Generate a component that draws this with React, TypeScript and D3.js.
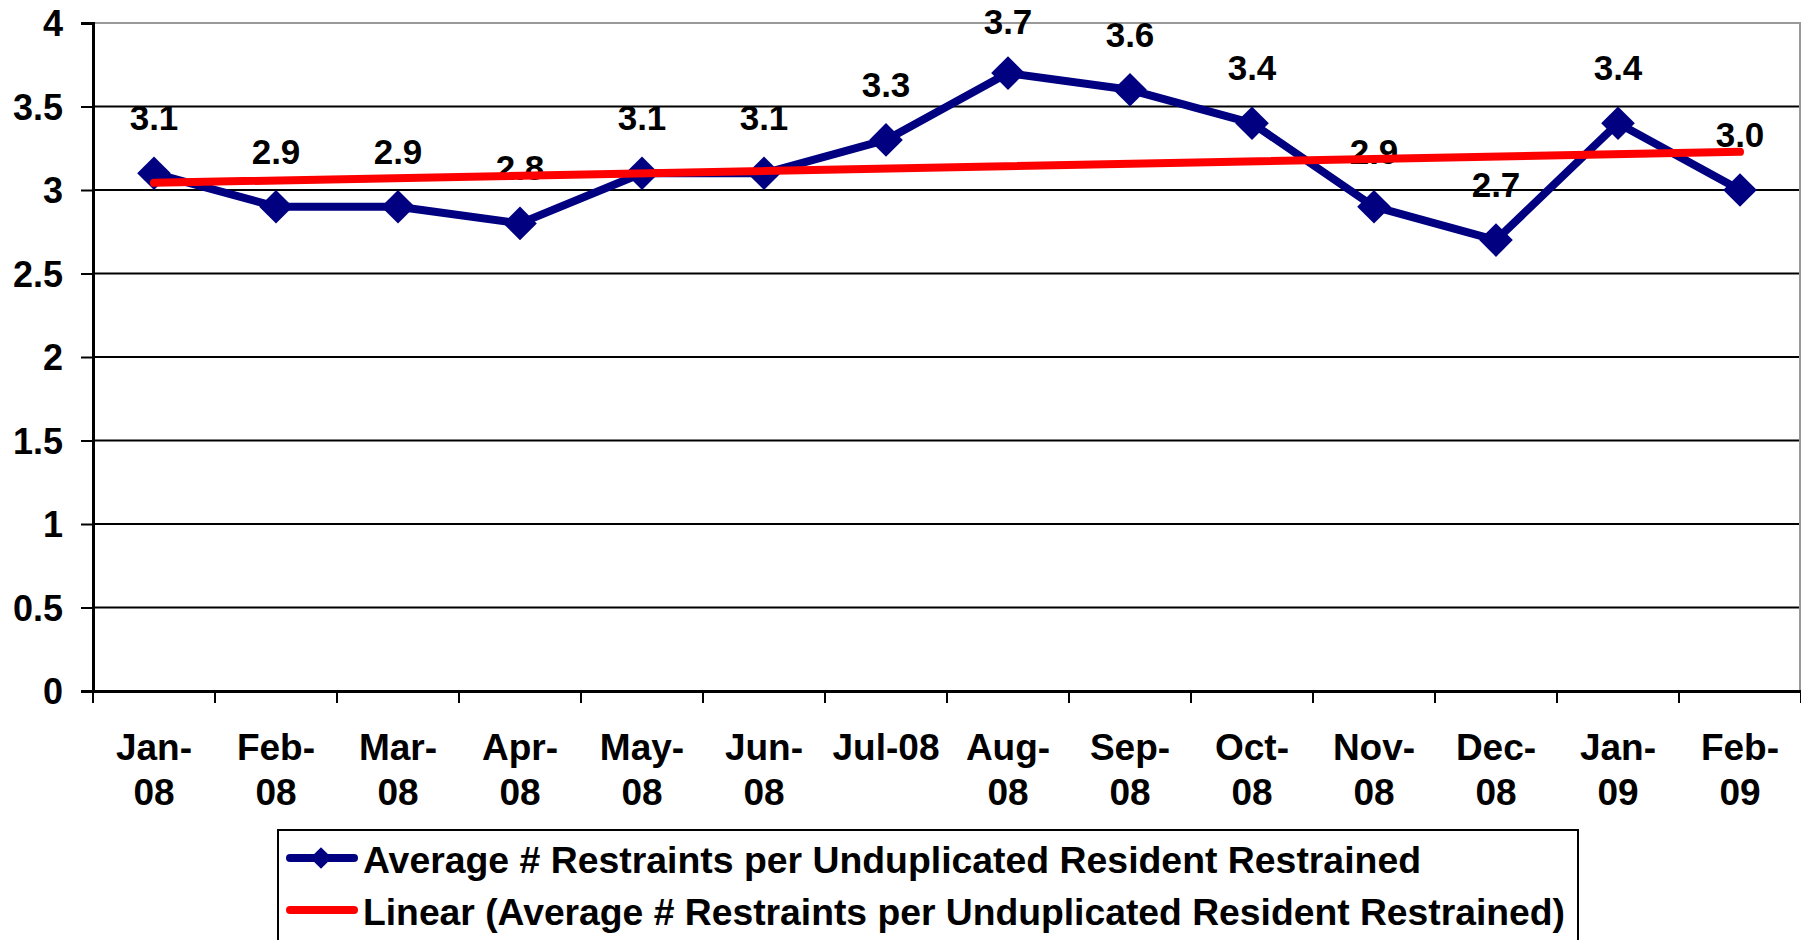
import { useEffect, useRef } from 'react';
import * as d3 from 'd3';

const months = ['Jan-08', 'Feb-08', 'Mar-08', 'Apr-08', 'May-08', 'Jun-08', 'Jul-08', 'Aug-08', 'Sep-08', 'Oct-08', 'Nov-08', 'Dec-08', 'Jan-09', 'Feb-09'];
const avgRestraints = [3.1, 2.9, 2.9, 2.8, 3.1, 3.1, 3.3, 3.7, 3.6, 3.4, 2.9, 2.7, 3.4, 3.0];
const yTicks = [0, 0.5, 1, 1.5, 2, 2.5, 3, 3.5, 4];
const seriesName = 'Average # Restraints per Unduplicated Resident Restrained';
const trendName = 'Linear (Average # Restraints per Unduplicated Resident Restrained)';

const W = 1801;
const H = 940;
const FONT = "Arial, 'Liberation Sans', sans-serif";

// split "Jan-08" -> ["Jan-", "08"], but Jul-08 stays on one line like the original
const splitLabel = (m: string) => (m === 'Jul-08' ? [m] : [m.slice(0, 4), m.slice(4)]);

const App = () => {
  const svgRef = useRef<SVGSVGElement | null>(null);

  useEffect(() => {
    if (!svgRef.current) return;
    const svg = d3.select(svgRef.current);
    svg.selectAll('*').remove();

    const left = 93;
    const right = 1801;
    const top = 23;
    const bottom = 691;

    const x = d3.scaleBand().domain(months).range([left, right]);
    const y = d3.scaleLinear().domain([0, 4]).range([bottom, top]);
    const cx = (m: string) => (x(m) as number) + x.bandwidth() / 2;

    // gridlines
    svg.append('g')
      .selectAll('line')
      .data(yTicks.filter(t => t > 0))
      .enter()
      .append('line')
      .attr('x1', left)
      .attr('x2', right)
      .attr('y1', d => y(d))
      .attr('y2', d => y(d))
      .attr('stroke', d => (d === 4 ? '#999' : '#000'))
      .attr('stroke-width', 2);

    // right border
    svg.append('line')
      .attr('x1', right - 1).attr('x2', right - 1)
      .attr('y1', top).attr('y2', bottom)
      .attr('stroke', '#999').attr('stroke-width', 2);

    // y axis
    const yAxis = svg.append('g').attr('transform', `translate(${left},0)`)
      .call(d3.axisLeft(y).tickValues(yTicks).tickSize(12).tickFormat(d => String(d)));
    yAxis.select('.domain').attr('stroke', '#000').attr('stroke-width', 3);
    yAxis.selectAll('.tick line').attr('stroke', '#000').attr('stroke-width', 2);
    yAxis.selectAll('.tick text')
      .attr('x', -30)
      .attr('dy', '0.36em')
      .attr('fill', '#000')
      .style('font-family', FONT)
      .style('font-weight', 'bold')
      .style('font-size', '36px');

    // x axis
    const xAxis = svg.append('g').attr('transform', `translate(0,${bottom})`)
      .call(d3.axisBottom(x).tickSize(0).tickFormat(() => ''));
    xAxis.select('.domain').attr('stroke', '#000').attr('stroke-width', 3);
    xAxis.selectAll('.tick').remove();

    svg.append('g')
      .selectAll('line')
      .data(d3.range(months.length + 1))
      .enter()
      .append('line')
      .attr('x1', i => left + i * x.step())
      .attr('x2', i => left + i * x.step())
      .attr('y1', bottom)
      .attr('y2', bottom + 12)
      .attr('stroke', '#000')
      .attr('stroke-width', 2);

    const xl = svg.append('g')
      .style('font-family', FONT)
      .style('font-weight', 'bold')
      .style('font-size', '37px')
      .attr('text-anchor', 'middle');
    months.forEach(m => {
      const t = xl.append('text').attr('x', cx(m)).attr('y', 760);
      splitLabel(m).forEach((part, i) => {
        t.append('tspan').attr('x', cx(m)).attr('dy', i === 0 ? 0 : 45).text(part);
      });
    });

    // data labels (kept inside the top of the chart, like Excel does)
    svg.append('g')
      .selectAll('text')
      .data(avgRestraints)
      .enter()
      .append('text')
      .attr('x', (d, i) => cx(months[i]))
      .attr('y', d => Math.max(y(d) - 43, 34))
      .attr('text-anchor', 'middle')
      .style('font-family', FONT)
      .style('font-weight', 'bold')
      .style('font-size', '35px')
      .text(d => d3.format('.1f')(d));

    // series line
    const line = d3.line<number>()
      .x((d, i) => cx(months[i]))
      .y(d => y(d));

    svg.append('path')
      .datum(avgRestraints)
      .attr('d', line)
      .attr('fill', 'none')
      .attr('stroke', '#000080')
      .attr('stroke-width', 8)
      .attr('stroke-linejoin', 'round');

    const diamond = d3.symbol().type(d3.symbolDiamond2).size(720);
    svg.append('g')
      .selectAll('path')
      .data(avgRestraints)
      .enter()
      .append('path')
      .attr('transform', (d, i) => `translate(${cx(months[i])},${y(d)})`)
      .attr('d', diamond)
      .attr('fill', '#000080');

    // linear trendline (least squares on the series)
    const n = avgRestraints.length;
    const xs = d3.range(n);
    const mx = d3.mean(xs) as number;
    const my = d3.mean(avgRestraints) as number;
    const slope = d3.sum(xs, i => (i - mx) * (avgRestraints[i] - my)) / d3.sum(xs, i => (i - mx) ** 2);
    const icpt = my - slope * mx;

    svg.append('line')
      .attr('x1', cx(months[0]))
      .attr('x2', cx(months[n - 1]))
      .attr('y1', y(icpt))
      .attr('y2', y(icpt + slope * (n - 1)))
      .attr('stroke', '#ff0000')
      .attr('stroke-width', 8)
      .attr('stroke-linecap', 'round');

    // legend
    const lg = svg.append('g');
    lg.append('rect')
      .attr('x', 278)
      .attr('y', 830)
      .attr('width', 1300)
      .attr('height', 140)
      .attr('fill', '#fff')
      .attr('stroke', '#000')
      .attr('stroke-width', 2);

    lg.append('line')
      .attr('x1', 290).attr('x2', 354).attr('y1', 858).attr('y2', 858)
      .attr('stroke', '#000080').attr('stroke-width', 8).attr('stroke-linecap', 'round');
    lg.append('path')
      .attr('transform', 'translate(321,858)')
      .attr('d', d3.symbol().type(d3.symbolDiamond2).size(300)())
      .attr('fill', '#000080');
    lg.append('line')
      .attr('x1', 290).attr('x2', 354).attr('y1', 910).attr('y2', 910)
      .attr('stroke', '#ff0000').attr('stroke-width', 8).attr('stroke-linecap', 'round');

    const legendText = lg.append('g')
      .style('font-family', FONT)
      .style('font-weight', 'bold')
      .style('font-size', '36px');
    legendText.append('text').attr('x', 363).attr('y', 873)
      .attr('textLength', 1058).attr('lengthAdjust', 'spacingAndGlyphs').text(seriesName);
    legendText.append('text').attr('x', 363).attr('y', 925)
      .attr('textLength', 1202).attr('lengthAdjust', 'spacingAndGlyphs').text(trendName);
  }, []);

  return (
    <svg
      ref={svgRef}
      width={W}
      height={H}
      style={{ position: 'absolute', left: 0, top: 0, background: '#fff' }}
    />
  );
};

export default App;
